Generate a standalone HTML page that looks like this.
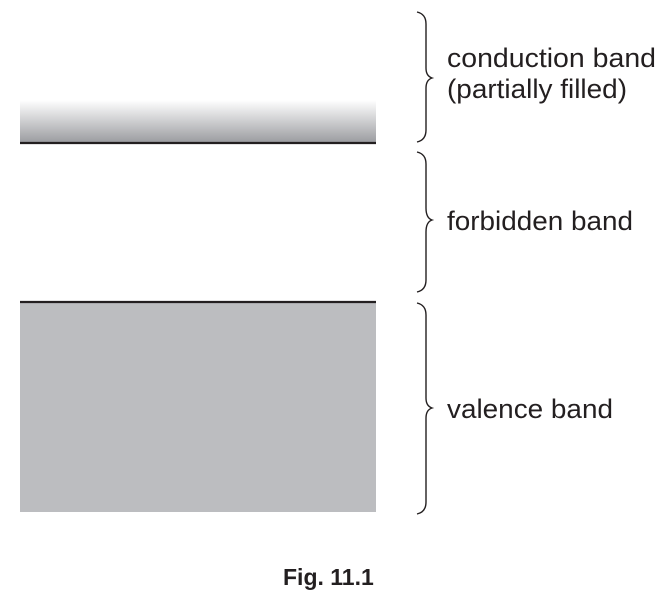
<!DOCTYPE html>
<html><head><style>
body{margin:0;background:#fff;}
svg{display:block;}
text{font-family:"Liberation Sans",Arial,sans-serif;fill:#231f20;}
</style></head><body>
<svg width="662" height="599" viewBox="0 0 662 599">
<defs>
<linearGradient id="g" x1="0" y1="0" x2="0" y2="1">
<stop offset="0" stop-color="#fff"/>
<stop offset="1" stop-color="#9a9b9f"/>
</linearGradient>
</defs>
<rect x="20" y="100" width="356" height="43" fill="url(#g)"/>
<line x1="20" y1="143" x2="376" y2="143" stroke="#231f20" stroke-width="2.2"/>
<rect x="20" y="302" width="356" height="210" fill="#bcbdc0"/>
<line x1="20" y1="302" x2="376" y2="302" stroke="#231f20" stroke-width="2.2"/>
<g fill="none" stroke="#231f20" stroke-width="1.4">
<path d="M417,12 Q426,14 426,24 L426,68 Q426,76 432,78 Q426,80 426,88 L426,130 Q426,140 417,142"/>
<path d="M417,152 Q426,154 426,164 L426,208 Q426,218 432,220 Q426,222 426,232 L426,280 Q426,290 417,292"/>
<path d="M417,303 Q426,305 426,315 L426,398 Q426,406 432,408 Q426,410 426,418 L426,502 Q426,512 417,514"/>
</g>
<g font-size="27">
<text x="447" y="67" textLength="209" lengthAdjust="spacingAndGlyphs">conduction band</text>
<text x="447" y="98" textLength="180" lengthAdjust="spacingAndGlyphs">(partially filled)</text>
<text x="447" y="230" textLength="186" lengthAdjust="spacingAndGlyphs">forbidden band</text>
<text x="447" y="418" textLength="166" lengthAdjust="spacingAndGlyphs">valence band</text>
</g>
<text x="283" y="585" font-size="23" font-weight="bold">Fig. 11.1</text>
</svg>
</body></html>
